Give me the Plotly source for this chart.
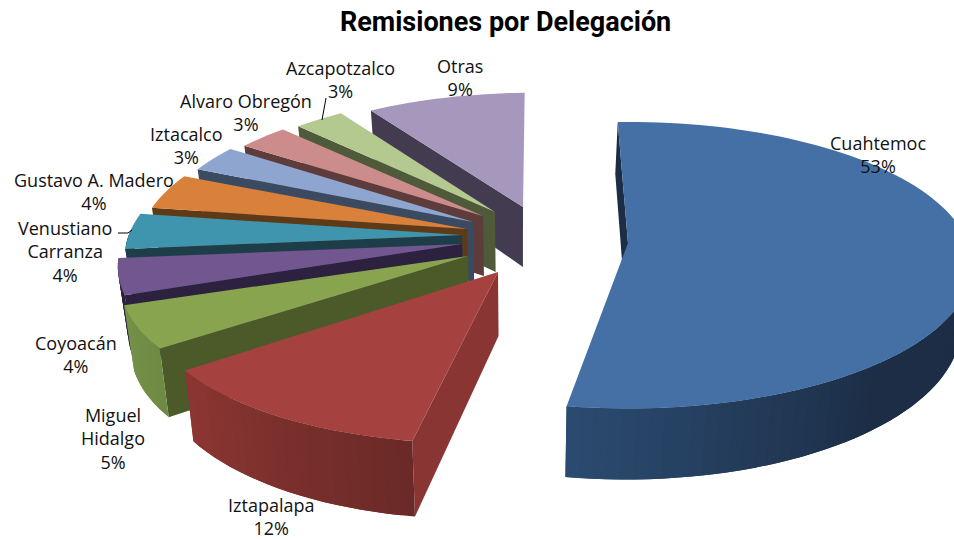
import math
import plotly.graph_objects as go

# ---- data ----
names = ["Cuahtemoc", "Iztapalapa", "Miguel<br>Hidalgo", "Coyoacán", "Venustiano<br>Carranza",
         "Gustavo A. Madero", "Iztacalco", "Alvaro Obregón", "Azcapotzalco", "Otras"]
values = [53, 12, 5, 4, 4, 4, 3, 3, 3, 9]
title_text = "Remisiones por Delegación"

# ---- styles ----
top_colors = ["#4470A6", "#A54240", "#89A44E", "#71568F", "#3F95AE",
              "#D9803A", "#8EA6CF", "#CC8C8B", "#B4C990", "#A697BD"]
side_colors = ["#1C2E45", "#883533", "#4C5A2A", "#2D2140", "#1D3E49",
               "#5E3A16", "#3A4A60", "#5D3C3B", "#4E5A3A", "#433C50"]
arc_near = ["#2B4B70", "#8D3633", "#76914A", "#2D2140", "#1D3E49",
            "#5E3A16", "#3A4A60", "#5D3C3B", "#4E5A3A", "#433C50"]
arc_far = ["#1C2D45", "#6A2A27", "#6F8A42", "#2D2140", "#1D3E49",
           "#5E3A16", "#3A4A60", "#5D3C3B", "#4E5A3A", "#433C50"]
grad_span = [50, 43, 18, 15, 15, 15, 11, 11, 11, 32]

# ---- layout of the tilted, exploded pie ----
apex_x = [628, 498, 468, 462, 462, 467, 473, 483, 495, 523]
apex_y = [243, 272, 256, 244, 235, 229, 222, 216, 212, 207]
scale_x = [1.0, 1.01, 1.0, 1.0, 0.98, 0.96, 0.935, 0.92, 0.905, 0.95]
scale_y = [0.985, 1.02, 0.96, 1.0, 1.0, 1.0, 1.0, 0.96, 0.95, 0.93]
shear = [0, -0.14, -0.13, 0, 0, 0, 0, 0, 0, -0.1]
depth = [60, 64, 62, 62, 60, 60, 60, 60, 60, 60]
draw_order = [9, 8, 7, 6, 5, 4, 3, 2, 1, 0]
START_ANGLE, RX, RY, PERSP, VANISH_X, CONVERGE = -2.0, 340, 142, 0.155, 520, 0.025

label_x = [878, 271, 113, 76, 65, 94, 186, 246, 340, 460]
label_y = [154, 516.5, 438, 354, 251, 191, 145, 112, 79, 77]

fig = go.Figure()


def project(i, t, r=1.0):
    X, Y = r * math.sin(math.radians(t)), -r * math.cos(math.radians(t))
    s = 1 / (1 - PERSP * Y)
    dx, dy = scale_x[i] * RX * X * s, scale_y[i] * RY * Y * s
    return apex_x[i] + dx + shear[i] * dy, apex_y[i] + dy, s


def lower(i, p):
    x, y, s = p
    return x + (VANISH_X - x) * CONVERGE, y + depth[i] * s


def poly(xs, ys, color):
    fig.add_trace(go.Scatter(x=xs + xs[:1], y=ys + ys[:1], mode="none", fill="toself",
                             fillcolor=color, hoverinfo="skip", showlegend=False))


def mix(c0, c1, f):
    a = [int(c0[j:j + 2], 16) for j in (1, 3, 5)]
    b = [int(c1[j:j + 2], 16) for j in (1, 3, 5)]
    return "#" + "".join(f"{round(u + (v - u) * f):02x}" for u, v in zip(a, b))


edges = [START_ANGLE]
for v in values:
    edges.append(edges[-1] + 3.6 * v)

for i in draw_order:
    t0, t1 = edges[i], edges[i + 1]
    n = max(2, int((t1 - t0) / 2))
    ts = [t0 + (t1 - t0) * j / n for j in range(n + 1)]
    pts = [project(i, t) for t in ts]
    ap = (apex_x[i], apex_y[i], 1.0)
    # side wall facing the viewer
    c = project(i, t0)
    lc, la = lower(i, c), lower(i, ap)
    poly([c[0], ap[0], la[0], lc[0]], [c[1], ap[1], la[1], lc[1]], side_colors[i])
    # rim, shaded along its length; each band overlaps the next so no seams show
    for j in range(n):
        tm = (ts[j] + ts[j + 1]) / 2
        if 80 < tm % 360 < 270:
            k = min(n, j + 2)
            band = pts[j:k + 1]
            low = [lower(i, p) for p in band][::-1]
            f = min(1.0, (t1 - tm) / grad_span[i])
            poly([p[0] for p in band] + [p[0] for p in low],
                 [p[1] for p in band] + [p[1] for p in low],
                 mix(arc_near[i], arc_far[i], f))
    # top face
    poly([ap[0]] + [p[0] for p in pts], [ap[1]] + [p[1] for p in pts], top_colors[i])

# leader lines
leader_x = [[326, 322], [118, 128, 132]]
leader_y = [[98, 120], [233, 233, 230]]
for lx, ly in zip(leader_x, leader_y):
    fig.add_trace(go.Scatter(x=lx, y=ly, mode="lines", line=dict(color="#000000", width=1),
                             hoverinfo="skip", showlegend=False))

for name, v, x, y in zip(names, values, label_x, label_y):
    fig.add_annotation(x=x, y=y, xref="x", yref="y", text=f"{name}<br>{v}%", showarrow=False,
                       align="center", font=dict(family="Open Sans", size=18, color="#111111"))

fig.update_layout(
    width=954, height=540, margin=dict(l=0, r=0, t=0, b=0),
    paper_bgcolor="#FFFFFF", plot_bgcolor="#FFFFFF", showlegend=False,
    xaxis=dict(range=[0, 954], visible=False, fixedrange=True),
    yaxis=dict(range=[540, 0], visible=False, fixedrange=True),
    title=dict(text=f"<b>{title_text}</b>", x=0.53, xanchor="center", y=0.96, yanchor="middle",
               font=dict(family="Roboto", size=27, color="#000000")),
)
fig.write_html("out.html", config={"displayModeBar": False},
               post_script="document.body.style.margin='0';document.documentElement.style.overflow='hidden';")
